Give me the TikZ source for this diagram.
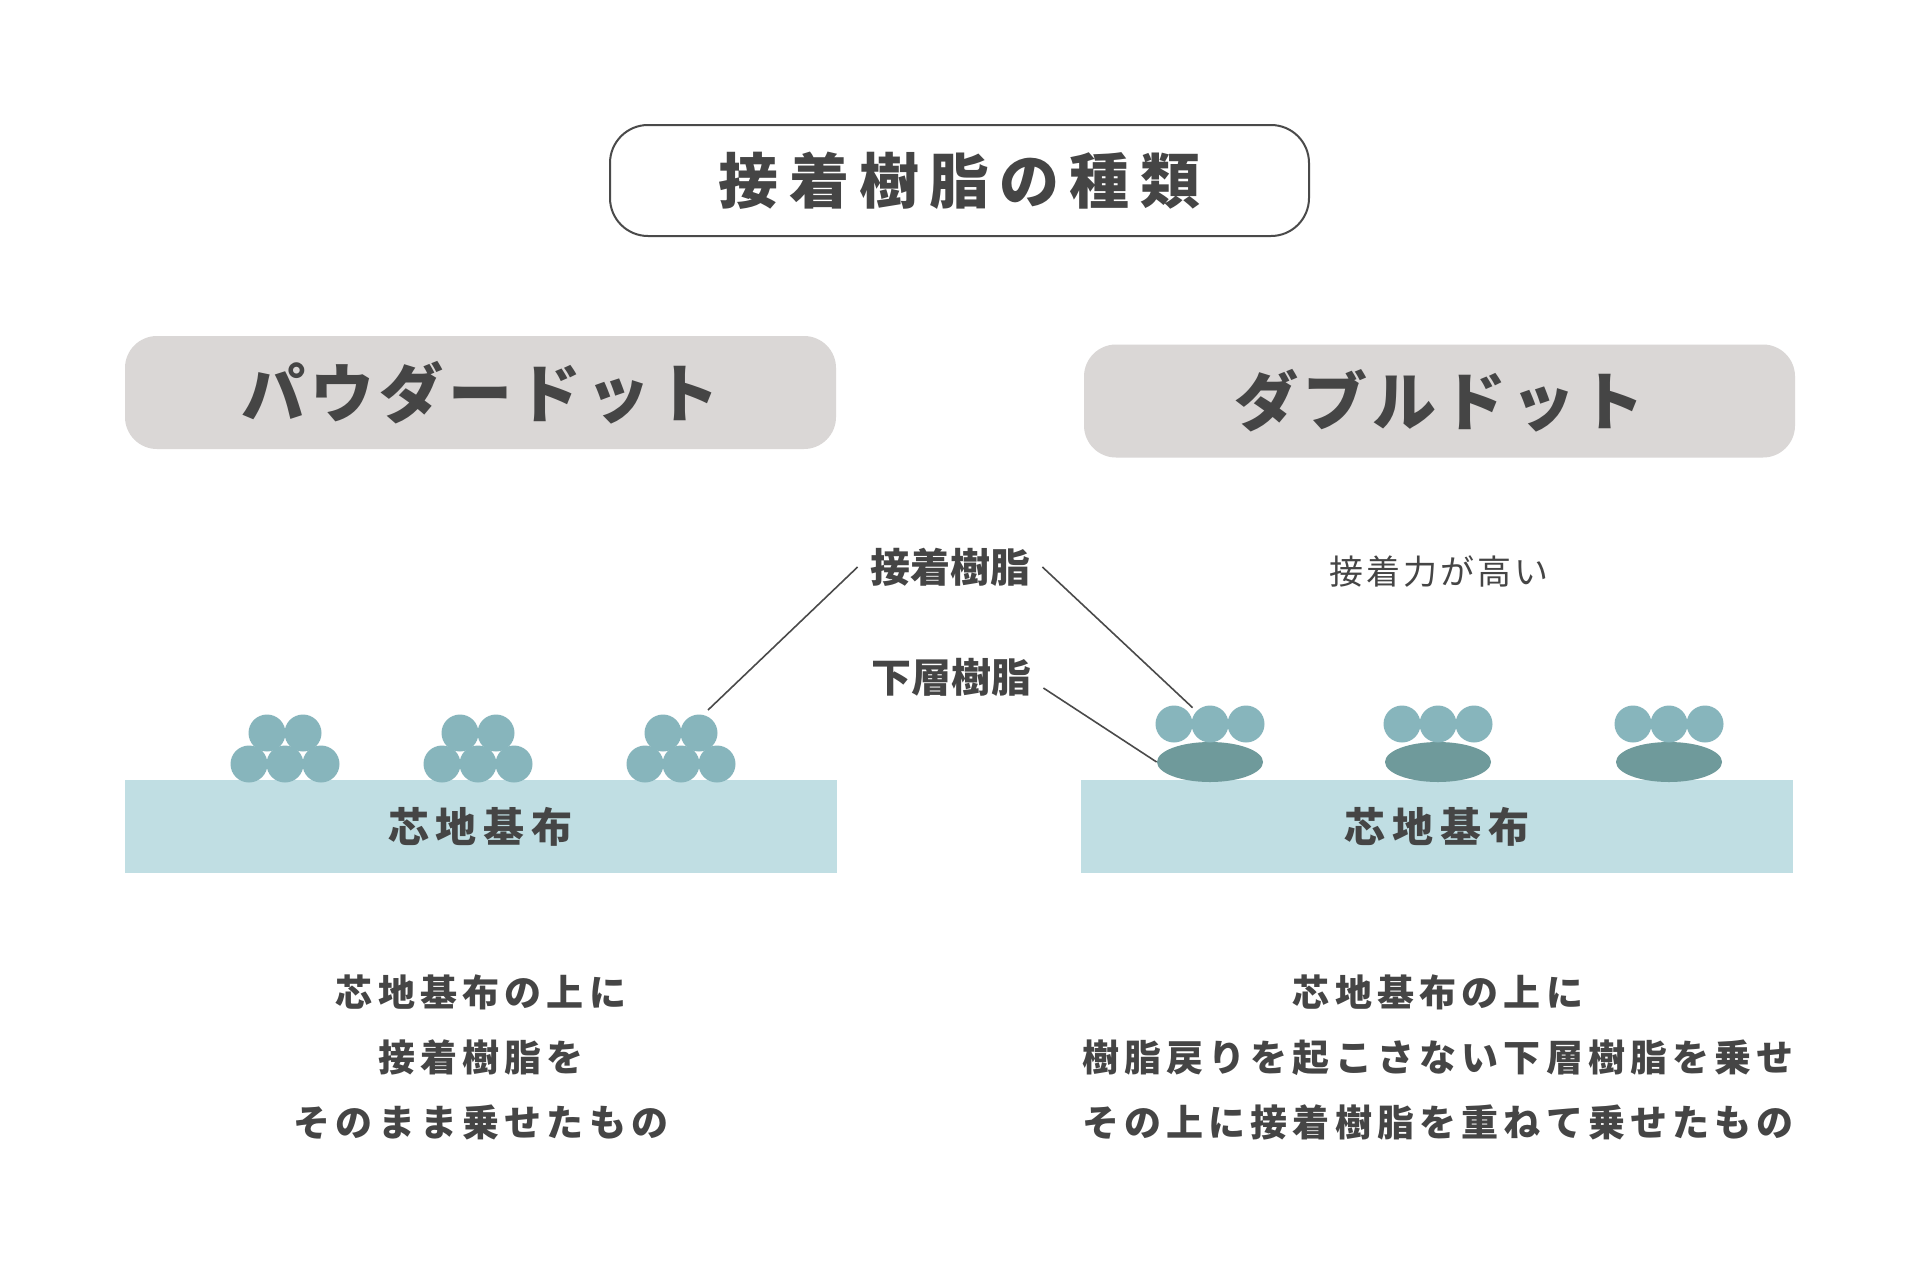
\documentclass[tikz,border=0pt]{standalone}
\usepackage{fontspec}
\usetikzlibrary{shapes.geometric}
\newfontfamily\jp{Noto Sans CJK JP}
\definecolor{textc}{HTML}{454545}
\definecolor{linec}{HTML}{4A4A4A}
\definecolor{grayc}{HTML}{DAD7D6}
\definecolor{subc}{HTML}{C0DEE3}
\definecolor{dotc}{HTML}{87B5BC}
\definecolor{ellc}{HTML}{6F9A9B}
\tikzset{
  jtxt/.style={text=textc, inner sep=0pt},
  titlebox/.style={draw=linec, line width=1pt, fill=white, rounded corners=19pt,
    minimum width=349.5pt, minimum height=55.5pt, text=textc,
    font=\jp\bfseries\fontsize{30pt}{36pt}\selectfont\addfontfeatures{LetterSpace=17}},
  hdrbox/.style={fill=grayc, rounded corners=16pt, minimum width=355.5pt, minimum height=56.5pt, text=textc,
    font=\jp\bfseries\fontsize{32pt}{38pt}\selectfont\addfontfeatures{LetterSpace=8}},
  subbox/.style={fill=subc, minimum width=356pt, minimum height=46.5pt, text=textc,
    font=\jp\bfseries\fontsize{20.5pt}{24pt}\selectfont\addfontfeatures{LetterSpace=17}},
  dotn/.style={circle, fill=dotc, minimum size=18.5pt, inner sep=0pt},
  elln/.style={ellipse, fill=ellc, minimum width=53pt, minimum height=20pt, inner sep=0pt},
  lbl/.style={jtxt, inner xsep=6pt, font=\jp\bfseries\fontsize{20pt}{24pt}\selectfont},
  note/.style={jtxt, font=\jp\fontsize{17pt}{20pt}\selectfont\addfontfeatures{LetterSpace=9}},
  desc/.style={jtxt, align=center, font=\jp\bfseries\fontsize{18.5pt}{32.5pt}\selectfont\addfontfeatures{LetterSpace=14}},
  conn/.style={draw=linec, line width=0.8pt},
}
\begin{document}
\begin{tikzpicture}[x=0.5pt,y=-0.5pt]
\useasboundingbox (0,0) rectangle (1920,1280);
\fill[white] (0,0) rectangle (1920,1280);

\node[titlebox] (title) at (959.5,180.5) {接着樹脂の種類};

\node[hdrbox] (hdrL) at (480.5,392.5) {パウダードット};
\node[hdrbox] (hdrR) at (1439.5,401) {ダブルドット};

\node[subbox] (subL) at (480.5,826.5) {芯地基布};
\node[subbox] (subR) at (1437,826.5) {芯地基布};

% powder dots
\foreach \cx [count=\i] in {285,478,681}{
  \node[dotn] (lb1\i) at (\cx-36,764) {};
  \node[dotn] (lb2\i) at (\cx,764) {};
  \node[dotn] (lb3\i) at (\cx+36,764) {};
  \node[dotn] (lt1\i) at (\cx-18,733) {};
  \node[dotn] (lt2\i) at (\cx+18,733) {};
}

% double dots
\foreach \cx [count=\i] in {1210,1438,1669}{
  \node[elln] (re\i) at (\cx,762) {};
  \node[dotn] (rc1\i) at (\cx-36,724) {};
  \node[dotn] (rc2\i) at (\cx,724) {};
  \node[dotn] (rc3\i) at (\cx+36,724) {};
}

\node[lbl] (lab1) at (950,567) {接着樹脂};
\node[lbl] (lab2) at (951,677) {下層樹脂};
\coordinate (pL) at (708,710);

\draw[conn] (lab1.west) -- (pL);
\draw[conn, shorten >=2.5pt] (lab1.east) -- (rc21);
\draw[conn] ([yshift=-5.5pt]lab2.east) -- (re1.west);

\node[note] (strong) at (1439,572) {接着力が高い};

\node[desc] (descL) at (481,1057) {芯地基布の上に\\接着樹脂を\\そのまま乗せたもの};
\node[desc] (descR) at (1438,1057) {芯地基布の上に\\樹脂戻りを起こさない下層樹脂を乗せ\\その上に接着樹脂を重ねて乗せたもの};
\end{tikzpicture}
\end{document}
